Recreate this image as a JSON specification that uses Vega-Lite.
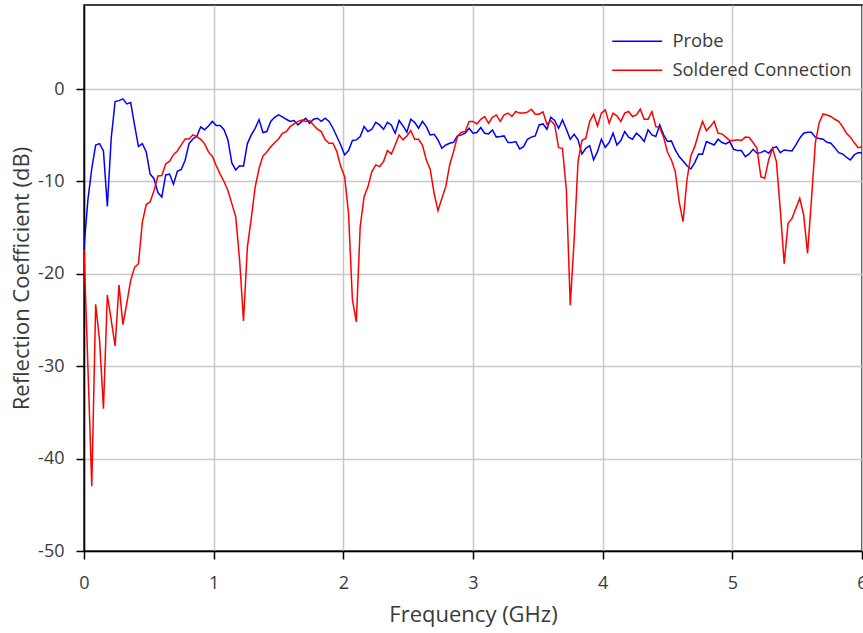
{
"$schema": "https://vega.github.io/schema/vega-lite/v6.json",
"width": 778, "height": 546,
"autosize": {"type": "none"},
"padding": {"left": 84, "top": 5, "right": 1, "bottom": 82},
"config": {
  "view": {"stroke": "black", "strokeWidth": 1.5},
  "font": "Open Sans",
  "axis": {"domainColor": "black", "domainWidth": 1.5, "tickColor": "black", "tickWidth": 1.5, "tickSize": 8, "gridColor": "#c8c8c8", "gridWidth": 1.5, "labelFontSize": 18, "labelColor": "#3a3a3a", "labelFontWeight": "normal", "titleFontSize": 22, "titleColor": "#3a3a3a", "titleFontWeight": "normal", "labelPadding": 12}
},
"datasets": {"d": [
{"f":0.00,"s":"Probe","v":-17.2},{"f":0.03,"s":"Probe","v":-12.0},{"f":0.06,"s":"Probe","v":-8.6},{"f":0.09,"s":"Probe","v":-6.05},{"f":0.12,"s":"Probe","v":-5.9},{"f":0.15,"s":"Probe","v":-6.7},{"f":0.18,"s":"Probe","v":-12.7},{"f":0.21,"s":"Probe","v":-5.3},{"f":0.24,"s":"Probe","v":-1.35},{"f":0.27,"s":"Probe","v":-1.25},
{"f":0.30,"s":"Probe","v":-1.06},{"f":0.33,"s":"Probe","v":-1.6},{"f":0.36,"s":"Probe","v":-1.45},{"f":0.39,"s":"Probe","v":-3.9},{"f":0.42,"s":"Probe","v":-6.2},{"f":0.45,"s":"Probe","v":-5.9},{"f":0.48,"s":"Probe","v":-6.8},{"f":0.51,"s":"Probe","v":-9.2},{"f":0.54,"s":"Probe","v":-9.7},{"f":0.57,"s":"Probe","v":-11.2},
{"f":0.60,"s":"Probe","v":-11.7},{"f":0.63,"s":"Probe","v":-9.3},{"f":0.66,"s":"Probe","v":-9.2},{"f":0.69,"s":"Probe","v":-10.3},{"f":0.72,"s":"Probe","v":-8.9},{"f":0.75,"s":"Probe","v":-8.7},{"f":0.78,"s":"Probe","v":-7.7},{"f":0.81,"s":"Probe","v":-5.9},{"f":0.84,"s":"Probe","v":-5.4},{"f":0.87,"s":"Probe","v":-5.1},
{"f":0.90,"s":"Probe","v":-4.1},{"f":0.93,"s":"Probe","v":-4.4},{"f":0.96,"s":"Probe","v":-4.0},{"f":0.99,"s":"Probe","v":-3.5},{"f":1.02,"s":"Probe","v":-3.95},{"f":1.05,"s":"Probe","v":-3.95},{"f":1.08,"s":"Probe","v":-4.4},{"f":1.11,"s":"Probe","v":-5.5},{"f":1.14,"s":"Probe","v":-8.0},{"f":1.17,"s":"Probe","v":-8.75},
{"f":1.20,"s":"Probe","v":-8.3},{"f":1.23,"s":"Probe","v":-8.35},{"f":1.26,"s":"Probe","v":-5.9},{"f":1.29,"s":"Probe","v":-4.96},{"f":1.32,"s":"Probe","v":-4.25},{"f":1.35,"s":"Probe","v":-3.3},{"f":1.38,"s":"Probe","v":-4.7},{"f":1.41,"s":"Probe","v":-4.6},{"f":1.44,"s":"Probe","v":-3.5},{"f":1.47,"s":"Probe","v":-3.05},
{"f":1.50,"s":"Probe","v":-2.8},{"f":1.53,"s":"Probe","v":-3.0},{"f":1.56,"s":"Probe","v":-3.27},{"f":1.59,"s":"Probe","v":-3.5},{"f":1.62,"s":"Probe","v":-3.4},{"f":1.65,"s":"Probe","v":-3.88},{"f":1.68,"s":"Probe","v":-3.5},{"f":1.71,"s":"Probe","v":-3.16},{"f":1.74,"s":"Probe","v":-3.7},{"f":1.77,"s":"Probe","v":-3.27},
{"f":1.80,"s":"Probe","v":-3.16},{"f":1.83,"s":"Probe","v":-3.5},{"f":1.86,"s":"Probe","v":-3.16},{"f":1.89,"s":"Probe","v":-3.5},{"f":1.92,"s":"Probe","v":-4.24},{"f":1.95,"s":"Probe","v":-5.14},{"f":1.98,"s":"Probe","v":-6.05},{"f":2.01,"s":"Probe","v":-7.13},{"f":2.04,"s":"Probe","v":-6.66},{"f":2.07,"s":"Probe","v":-5.57},
{"f":2.10,"s":"Probe","v":-5.5},{"f":2.13,"s":"Probe","v":-5.14},{"f":2.16,"s":"Probe","v":-4.06},{"f":2.19,"s":"Probe","v":-4.6},{"f":2.22,"s":"Probe","v":-4.35},{"f":2.25,"s":"Probe","v":-3.6},{"f":2.28,"s":"Probe","v":-3.88},{"f":2.31,"s":"Probe","v":-4.35},{"f":2.34,"s":"Probe","v":-3.6},{"f":2.37,"s":"Probe","v":-3.88},
{"f":2.40,"s":"Probe","v":-4.78},{"f":2.43,"s":"Probe","v":-3.4},{"f":2.46,"s":"Probe","v":-3.99},{"f":2.49,"s":"Probe","v":-4.67},{"f":2.52,"s":"Probe","v":-3.27},{"f":2.55,"s":"Probe","v":-3.6},{"f":2.58,"s":"Probe","v":-4.24},{"f":2.61,"s":"Probe","v":-3.5},{"f":2.64,"s":"Probe","v":-4.06},{"f":2.67,"s":"Probe","v":-4.96},
{"f":2.70,"s":"Probe","v":-4.89},{"f":2.73,"s":"Probe","v":-5.5},{"f":2.76,"s":"Probe","v":-6.41},{"f":2.79,"s":"Probe","v":-6.05},{"f":2.82,"s":"Probe","v":-5.86},{"f":2.85,"s":"Probe","v":-5.76},{"f":2.88,"s":"Probe","v":-5.07},{"f":2.91,"s":"Probe","v":-4.96},{"f":2.94,"s":"Probe","v":-4.78},{"f":2.97,"s":"Probe","v":-4.24},
{"f":3.00,"s":"Probe","v":-4.78},{"f":3.03,"s":"Probe","v":-4.71},{"f":3.06,"s":"Probe","v":-4.17},{"f":3.09,"s":"Probe","v":-4.78},{"f":3.12,"s":"Probe","v":-4.85},{"f":3.15,"s":"Probe","v":-4.42},{"f":3.18,"s":"Probe","v":-5.2},{"f":3.21,"s":"Probe","v":-5.14},{"f":3.24,"s":"Probe","v":-5.07},{"f":3.27,"s":"Probe","v":-5.79},
{"f":3.30,"s":"Probe","v":-5.79},{"f":3.33,"s":"Probe","v":-5.68},{"f":3.36,"s":"Probe","v":-6.48},{"f":3.39,"s":"Probe","v":-6.23},{"f":3.42,"s":"Probe","v":-5.43},{"f":3.45,"s":"Probe","v":-5.2},{"f":3.48,"s":"Probe","v":-5.07},{"f":3.51,"s":"Probe","v":-3.88},{"f":3.54,"s":"Probe","v":-3.77},{"f":3.57,"s":"Probe","v":-4.35},
{"f":3.60,"s":"Probe","v":-3.05},{"f":3.63,"s":"Probe","v":-3.4},{"f":3.66,"s":"Probe","v":-4.24},{"f":3.69,"s":"Probe","v":-3.34},{"f":3.72,"s":"Probe","v":-4.35},{"f":3.75,"s":"Probe","v":-5.43},{"f":3.78,"s":"Probe","v":-4.89},{"f":3.81,"s":"Probe","v":-5.5},{"f":3.84,"s":"Probe","v":-7.02},{"f":3.87,"s":"Probe","v":-6.41},
{"f":3.90,"s":"Probe","v":-6.12},{"f":3.93,"s":"Probe","v":-7.67},{"f":3.96,"s":"Probe","v":-6.77},{"f":3.99,"s":"Probe","v":-5.43},{"f":4.02,"s":"Probe","v":-6.3},{"f":4.05,"s":"Probe","v":-5.79},{"f":4.08,"s":"Probe","v":-4.78},{"f":4.11,"s":"Probe","v":-6.05},{"f":4.14,"s":"Probe","v":-5.57},{"f":4.17,"s":"Probe","v":-4.6},
{"f":4.20,"s":"Probe","v":-5.2},{"f":4.23,"s":"Probe","v":-5.43},{"f":4.26,"s":"Probe","v":-4.78},{"f":4.29,"s":"Probe","v":-5.14},{"f":4.32,"s":"Probe","v":-5.68},{"f":4.35,"s":"Probe","v":-4.42},{"f":4.38,"s":"Probe","v":-4.96},{"f":4.41,"s":"Probe","v":-5.14},{"f":4.44,"s":"Probe","v":-3.88},{"f":4.47,"s":"Probe","v":-4.96},
{"f":4.50,"s":"Probe","v":-5.68},{"f":4.53,"s":"Probe","v":-5.61},{"f":4.56,"s":"Probe","v":-6.59},{"f":4.59,"s":"Probe","v":-7.31},{"f":4.62,"s":"Probe","v":-7.78},{"f":4.65,"s":"Probe","v":-8.3},{"f":4.68,"s":"Probe","v":-8.65},{"f":4.71,"s":"Probe","v":-7.96},{"f":4.74,"s":"Probe","v":-7.02},{"f":4.77,"s":"Probe","v":-7.06},
{"f":4.80,"s":"Probe","v":-5.68},{"f":4.83,"s":"Probe","v":-5.86},{"f":4.86,"s":"Probe","v":-6.05},{"f":4.89,"s":"Probe","v":-5.43},{"f":4.92,"s":"Probe","v":-5.79},{"f":4.95,"s":"Probe","v":-5.94},{"f":4.98,"s":"Probe","v":-5.68},{"f":5.01,"s":"Probe","v":-6.52},{"f":5.04,"s":"Probe","v":-6.66},{"f":5.07,"s":"Probe","v":-6.66},
{"f":5.10,"s":"Probe","v":-7.31},{"f":5.13,"s":"Probe","v":-7.02},{"f":5.16,"s":"Probe","v":-6.52},{"f":5.19,"s":"Probe","v":-6.95},{"f":5.22,"s":"Probe","v":-6.88},{"f":5.25,"s":"Probe","v":-6.66},{"f":5.28,"s":"Probe","v":-6.95},{"f":5.31,"s":"Probe","v":-6.41},{"f":5.34,"s":"Probe","v":-6.23},{"f":5.37,"s":"Probe","v":-6.88},
{"f":5.40,"s":"Probe","v":-6.59},{"f":5.43,"s":"Probe","v":-6.66},{"f":5.46,"s":"Probe","v":-6.7},{"f":5.49,"s":"Probe","v":-6.05},{"f":5.52,"s":"Probe","v":-5.32},{"f":5.55,"s":"Probe","v":-4.78},{"f":5.58,"s":"Probe","v":-4.67},{"f":5.61,"s":"Probe","v":-4.67},{"f":5.64,"s":"Probe","v":-5.2},{"f":5.67,"s":"Probe","v":-5.36},
{"f":5.70,"s":"Probe","v":-5.43},{"f":5.73,"s":"Probe","v":-5.76},{"f":5.76,"s":"Probe","v":-5.86},{"f":5.79,"s":"Probe","v":-6.34},{"f":5.82,"s":"Probe","v":-6.88},{"f":5.85,"s":"Probe","v":-7.02},{"f":5.88,"s":"Probe","v":-7.38},{"f":5.91,"s":"Probe","v":-7.67},{"f":5.94,"s":"Probe","v":-7.13},{"f":5.97,"s":"Probe","v":-6.88},
{"f":6.00,"s":"Probe","v":-6.88},
{"f":0.00,"s":"Soldered Connection","v":-17.35},{"f":0.03,"s":"Soldered Connection","v":-30.0},{"f":0.06,"s":"Soldered Connection","v":-43.0},{"f":0.09,"s":"Soldered Connection","v":-23.3},{"f":0.12,"s":"Soldered Connection","v":-27.2},{"f":0.15,"s":"Soldered Connection","v":-34.6},{"f":0.18,"s":"Soldered Connection","v":-22.3},{"f":0.21,"s":"Soldered Connection","v":-25.0},{"f":0.24,"s":"Soldered Connection","v":-27.8},{"f":0.27,"s":"Soldered Connection","v":-21.2},
{"f":0.30,"s":"Soldered Connection","v":-25.5},{"f":0.33,"s":"Soldered Connection","v":-23.2},{"f":0.36,"s":"Soldered Connection","v":-20.7},{"f":0.39,"s":"Soldered Connection","v":-19.3},{"f":0.42,"s":"Soldered Connection","v":-18.9},{"f":0.45,"s":"Soldered Connection","v":-14.4},{"f":0.48,"s":"Soldered Connection","v":-12.5},{"f":0.51,"s":"Soldered Connection","v":-12.2},{"f":0.54,"s":"Soldered Connection","v":-11.0},{"f":0.57,"s":"Soldered Connection","v":-9.4},
{"f":0.60,"s":"Soldered Connection","v":-9.35},{"f":0.63,"s":"Soldered Connection","v":-8.1},{"f":0.66,"s":"Soldered Connection","v":-7.8},{"f":0.69,"s":"Soldered Connection","v":-7.1},{"f":0.72,"s":"Soldered Connection","v":-6.7},{"f":0.75,"s":"Soldered Connection","v":-6.05},{"f":0.78,"s":"Soldered Connection","v":-5.4},{"f":0.81,"s":"Soldered Connection","v":-5.4},{"f":0.84,"s":"Soldered Connection","v":-4.95},{"f":0.87,"s":"Soldered Connection","v":-5.15},
{"f":0.90,"s":"Soldered Connection","v":-5.45},{"f":0.93,"s":"Soldered Connection","v":-5.9},{"f":0.96,"s":"Soldered Connection","v":-6.8},{"f":0.99,"s":"Soldered Connection","v":-7.3},{"f":1.02,"s":"Soldered Connection","v":-8.3},{"f":1.05,"s":"Soldered Connection","v":-9.2},{"f":1.08,"s":"Soldered Connection","v":-10.0},{"f":1.11,"s":"Soldered Connection","v":-11.0},{"f":1.14,"s":"Soldered Connection","v":-12.4},{"f":1.17,"s":"Soldered Connection","v":-13.8},
{"f":1.20,"s":"Soldered Connection","v":-18.5},{"f":1.23,"s":"Soldered Connection","v":-25.1},{"f":1.26,"s":"Soldered Connection","v":-17.1},{"f":1.29,"s":"Soldered Connection","v":-14.0},{"f":1.32,"s":"Soldered Connection","v":-10.6},{"f":1.35,"s":"Soldered Connection","v":-8.6},{"f":1.38,"s":"Soldered Connection","v":-7.25},{"f":1.41,"s":"Soldered Connection","v":-6.8},{"f":1.44,"s":"Soldered Connection","v":-6.25},{"f":1.47,"s":"Soldered Connection","v":-5.8},
{"f":1.50,"s":"Soldered Connection","v":-5.4},{"f":1.53,"s":"Soldered Connection","v":-4.78},{"f":1.56,"s":"Soldered Connection","v":-4.6},{"f":1.59,"s":"Soldered Connection","v":-4.06},{"f":1.62,"s":"Soldered Connection","v":-3.77},{"f":1.65,"s":"Soldered Connection","v":-3.5},{"f":1.68,"s":"Soldered Connection","v":-3.34},{"f":1.71,"s":"Soldered Connection","v":-3.5},{"f":1.74,"s":"Soldered Connection","v":-3.4},{"f":1.77,"s":"Soldered Connection","v":-3.88},
{"f":1.80,"s":"Soldered Connection","v":-4.35},{"f":1.83,"s":"Soldered Connection","v":-4.6},{"f":1.86,"s":"Soldered Connection","v":-5.5},{"f":1.89,"s":"Soldered Connection","v":-5.86},{"f":1.92,"s":"Soldered Connection","v":-5.86},{"f":1.95,"s":"Soldered Connection","v":-6.77},{"f":1.98,"s":"Soldered Connection","v":-8.39},{"f":2.01,"s":"Soldered Connection","v":-9.48},{"f":2.04,"s":"Soldered Connection","v":-13.45},{"f":2.07,"s":"Soldered Connection","v":-22.8},
{"f":2.10,"s":"Soldered Connection","v":-25.2},{"f":2.13,"s":"Soldered Connection","v":-14.9},{"f":2.16,"s":"Soldered Connection","v":-11.64},{"f":2.19,"s":"Soldered Connection","v":-10.56},{"f":2.22,"s":"Soldered Connection","v":-8.93},{"f":2.25,"s":"Soldered Connection","v":-8.21},{"f":2.28,"s":"Soldered Connection","v":-8.39},{"f":2.31,"s":"Soldered Connection","v":-7.85},{"f":2.34,"s":"Soldered Connection","v":-6.66},{"f":2.37,"s":"Soldered Connection","v":-7.02},
{"f":2.40,"s":"Soldered Connection","v":-6.05},{"f":2.43,"s":"Soldered Connection","v":-4.96},{"f":2.46,"s":"Soldered Connection","v":-5.5},{"f":2.49,"s":"Soldered Connection","v":-5.07},{"f":2.52,"s":"Soldered Connection","v":-4.49},{"f":2.55,"s":"Soldered Connection","v":-5.43},{"f":2.58,"s":"Soldered Connection","v":-5.43},{"f":2.61,"s":"Soldered Connection","v":-6.05},{"f":2.64,"s":"Soldered Connection","v":-7.67},{"f":2.67,"s":"Soldered Connection","v":-8.68},
{"f":2.70,"s":"Soldered Connection","v":-11.28},{"f":2.73,"s":"Soldered Connection","v":-13.16},{"f":2.76,"s":"Soldered Connection","v":-11.82},{"f":2.79,"s":"Soldered Connection","v":-10.56},{"f":2.82,"s":"Soldered Connection","v":-8.21},{"f":2.85,"s":"Soldered Connection","v":-6.77},{"f":2.88,"s":"Soldered Connection","v":-5.14},{"f":2.91,"s":"Soldered Connection","v":-4.67},{"f":2.94,"s":"Soldered Connection","v":-4.6},{"f":2.97,"s":"Soldered Connection","v":-3.5},
{"f":3.00,"s":"Soldered Connection","v":-3.5},{"f":3.03,"s":"Soldered Connection","v":-3.77},{"f":3.06,"s":"Soldered Connection","v":-3.27},{"f":3.09,"s":"Soldered Connection","v":-2.97},{"f":3.12,"s":"Soldered Connection","v":-3.7},{"f":3.15,"s":"Soldered Connection","v":-3.05},{"f":3.18,"s":"Soldered Connection","v":-2.8},{"f":3.21,"s":"Soldered Connection","v":-3.5},{"f":3.24,"s":"Soldered Connection","v":-2.8},{"f":3.27,"s":"Soldered Connection","v":-2.6},
{"f":3.30,"s":"Soldered Connection","v":-2.97},{"f":3.33,"s":"Soldered Connection","v":-2.43},{"f":3.36,"s":"Soldered Connection","v":-2.6},{"f":3.39,"s":"Soldered Connection","v":-2.6},{"f":3.42,"s":"Soldered Connection","v":-2.5},{"f":3.45,"s":"Soldered Connection","v":-2.18},{"f":3.48,"s":"Soldered Connection","v":-2.72},{"f":3.51,"s":"Soldered Connection","v":-2.72},{"f":3.54,"s":"Soldered Connection","v":-2.47},{"f":3.57,"s":"Soldered Connection","v":-3.81},
{"f":3.60,"s":"Soldered Connection","v":-3.4},{"f":3.63,"s":"Soldered Connection","v":-3.88},{"f":3.66,"s":"Soldered Connection","v":-6.34},{"f":3.69,"s":"Soldered Connection","v":-6.41},{"f":3.72,"s":"Soldered Connection","v":-10.92},{"f":3.75,"s":"Soldered Connection","v":-23.4},{"f":3.78,"s":"Soldered Connection","v":-16.34},{"f":3.81,"s":"Soldered Connection","v":-7.85},{"f":3.84,"s":"Soldered Connection","v":-5.57},{"f":3.87,"s":"Soldered Connection","v":-5.32},
{"f":3.90,"s":"Soldered Connection","v":-3.5},{"f":3.93,"s":"Soldered Connection","v":-2.72},{"f":3.96,"s":"Soldered Connection","v":-3.99},{"f":3.99,"s":"Soldered Connection","v":-2.6},{"f":4.02,"s":"Soldered Connection","v":-2.25},{"f":4.05,"s":"Soldered Connection","v":-3.7},{"f":4.08,"s":"Soldered Connection","v":-2.6},{"f":4.11,"s":"Soldered Connection","v":-2.9},{"f":4.14,"s":"Soldered Connection","v":-3.5},{"f":4.17,"s":"Soldered Connection","v":-2.6},
{"f":4.20,"s":"Soldered Connection","v":-2.43},{"f":4.23,"s":"Soldered Connection","v":-2.97},{"f":4.26,"s":"Soldered Connection","v":-2.8},{"f":4.29,"s":"Soldered Connection","v":-2.18},{"f":4.32,"s":"Soldered Connection","v":-3.27},{"f":4.35,"s":"Soldered Connection","v":-3.27},{"f":4.38,"s":"Soldered Connection","v":-2.43},{"f":4.41,"s":"Soldered Connection","v":-4.06},{"f":4.44,"s":"Soldered Connection","v":-4.17},{"f":4.47,"s":"Soldered Connection","v":-5.2},
{"f":4.50,"s":"Soldered Connection","v":-6.84},{"f":4.53,"s":"Soldered Connection","v":-7.67},{"f":4.56,"s":"Soldered Connection","v":-8.93},{"f":4.59,"s":"Soldered Connection","v":-12.2},{"f":4.62,"s":"Soldered Connection","v":-14.35},{"f":4.65,"s":"Soldered Connection","v":-9.84},{"f":4.68,"s":"Soldered Connection","v":-7.2},{"f":4.71,"s":"Soldered Connection","v":-6.23},{"f":4.74,"s":"Soldered Connection","v":-4.78},{"f":4.77,"s":"Soldered Connection","v":-3.5},
{"f":4.80,"s":"Soldered Connection","v":-4.49},{"f":4.83,"s":"Soldered Connection","v":-4.06},{"f":4.86,"s":"Soldered Connection","v":-3.5},{"f":4.89,"s":"Soldered Connection","v":-4.78},{"f":4.92,"s":"Soldered Connection","v":-4.85},{"f":4.95,"s":"Soldered Connection","v":-5.2},{"f":4.98,"s":"Soldered Connection","v":-5.57},{"f":5.01,"s":"Soldered Connection","v":-5.57},{"f":5.04,"s":"Soldered Connection","v":-5.5},{"f":5.07,"s":"Soldered Connection","v":-5.57},
{"f":5.10,"s":"Soldered Connection","v":-5.2},{"f":5.13,"s":"Soldered Connection","v":-5.25},{"f":5.16,"s":"Soldered Connection","v":-5.79},{"f":5.19,"s":"Soldered Connection","v":-6.41},{"f":5.22,"s":"Soldered Connection","v":-9.48},{"f":5.25,"s":"Soldered Connection","v":-9.66},{"f":5.28,"s":"Soldered Connection","v":-7.67},{"f":5.31,"s":"Soldered Connection","v":-6.41},{"f":5.34,"s":"Soldered Connection","v":-7.85},{"f":5.37,"s":"Soldered Connection","v":-13.1},
{"f":5.40,"s":"Soldered Connection","v":-18.9},{"f":5.43,"s":"Soldered Connection","v":-14.53},{"f":5.46,"s":"Soldered Connection","v":-14.0},{"f":5.49,"s":"Soldered Connection","v":-12.9},{"f":5.52,"s":"Soldered Connection","v":-11.82},{"f":5.55,"s":"Soldered Connection","v":-13.6},{"f":5.58,"s":"Soldered Connection","v":-17.78},{"f":5.61,"s":"Soldered Connection","v":-12.0},{"f":5.64,"s":"Soldered Connection","v":-5.86},{"f":5.67,"s":"Soldered Connection","v":-3.63},
{"f":5.70,"s":"Soldered Connection","v":-2.69},{"f":5.73,"s":"Soldered Connection","v":-2.8},{"f":5.76,"s":"Soldered Connection","v":-2.97},{"f":5.79,"s":"Soldered Connection","v":-3.27},{"f":5.82,"s":"Soldered Connection","v":-3.5},{"f":5.85,"s":"Soldered Connection","v":-4.06},{"f":5.88,"s":"Soldered Connection","v":-4.78},{"f":5.91,"s":"Soldered Connection","v":-5.2},{"f":5.94,"s":"Soldered Connection","v":-5.79},{"f":5.97,"s":"Soldered Connection","v":-6.34},
{"f":6.00,"s":"Soldered Connection","v":-6.23}
]},
"data": {"name": "d"},
"mark": {"type": "line", "strokeWidth": 1.5, "clip": true},
"encoding": {
  "x": {"field": "f", "type": "quantitative", "scale": {"domain": [0, 6], "nice": false, "zero": false}, "axis": {"title": "Frequency (GHz)", "values": [0, 1, 2, 3, 4, 5, 6], "labelExpr": "'' + datum.value", "labelFlush": false, "labelOverlap": false, "titlePadding": 12, "labelPadding": 15}},
  "y": {"field": "v", "type": "quantitative", "scale": {"domain": [-50, 9.1], "nice": false}, "axis": {"title": "Reflection Coefficient (dB)", "values": [-50, -40, -30, -20, -10, 0], "labelExpr": "'' + datum.value", "labelPadding": 12, "titlePadding": 4}},
  "color": {"field": "s", "type": "nominal", "scale": {"domain": ["Probe", "Soldered Connection"], "range": ["#0000ff", "#ff0000"]}, "legend": {"orient": "none", "legendX": 544, "legendY": 27, "title": null, "symbolType": "M-5,0H5", "symbolSize": 100, "symbolStrokeWidth": 1.5, "labelFontSize": 18.4, "labelOffset": 26, "labelLimit": 0, "rowPadding": 10, "padding": 0, "labelColor": "#3a3a3a", "labelFontWeight": "normal"}}
}
}
